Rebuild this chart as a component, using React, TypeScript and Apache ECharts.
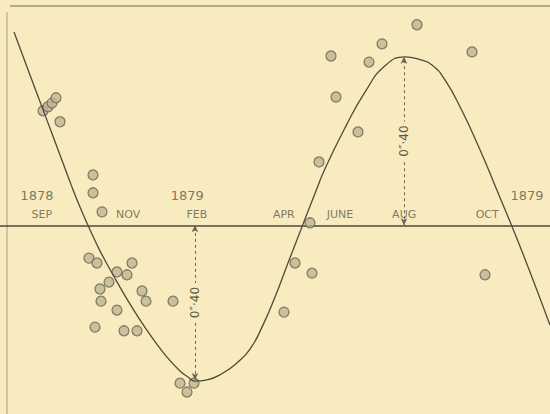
import React, { useEffect, useRef } from "react";
import * as echarts from "echarts";

// x: months (chart scale), y: arcseconds
const curveX = [0.395, 0.845, 1.268, 1.691, 2.029, 2.311, 2.536, 2.818, 3.185, 3.579, 3.945, 4.312, 4.706, 5.073, 5.298, 5.495, 5.834, 6.285, 6.679, 7.046, 7.384, 7.75, 8.116, 8.511, 8.849, 9.159, 9.723, 10.286, 10.85, 11.414, 11.836, 12.175, 12.541, 13.02, 13.527, 13.978, 14.401, 14.936, 15.5];
const curveY = [0.476, 0.37, 0.272, 0.173, 0.094, 0.033, -0.011, -0.063, -0.122, -0.182, -0.233, -0.28, -0.325, -0.359, -0.374, -0.384, -0.381, -0.364, -0.339, -0.305, -0.251, -0.177, -0.093, -0.004, 0.072, 0.139, 0.24, 0.328, 0.393, 0.415, 0.408, 0.395, 0.358, 0.282, 0.186, 0.092, 0.003, -0.115, -0.246];

const obsX = [1.212, 1.353, 1.465, 1.578, 1.691, 2.621, 2.621, 2.875, 2.508, 2.734, 3.72, 3.297, 3.579, 3.072, 2.818, 4.002, 2.846, 4.115, 4.875, 3.297, 2.677, 3.495, 3.861, 5.073, 5.467, 5.27, 8.003, 8.314, 8.793, 8.736, 8.99, 9.469, 10.089, 9.328, 10.399, 10.766, 11.752, 13.302, 13.668];
const obsY = [0.282, 0.292, 0.301, 0.314, 0.255, 0.124, 0.08, 0.033, -0.081, -0.093, -0.093, -0.115, -0.122, -0.14, -0.157, -0.162, -0.187, -0.187, -0.187, -0.209, -0.251, -0.26, -0.26, -0.389, -0.389, -0.411, -0.214, -0.093, -0.118, 0.006, 0.156, 0.316, 0.23, 0.417, 0.402, 0.447, 0.494, 0.427, -0.122];

const monthNames = ["SEP", "NOV", "FEB", "APR", "JUNE", "AUG", "OCT"];
const monthAt = [1.18, 3.61, 5.55, 8.0, 9.58, 11.39, 13.73];
const yearNames = ["1878", "1879", "1879"];
const yearAt = [1.04, 5.28, 14.85];

const ampAt = [5.495, 11.385];
const ampValue = [-0.381, 0.415];
const ampText = "0″·40";

const BG = "#f7ebbf";
const INK = "#4f4a3a";
const TEXT = "#5f5a47";

export default function App() {
  const ref = useRef<HTMLDivElement>(null);
  useEffect(() => {
    document.body.style.margin = "0";
    const chart = echarts.init(ref.current!, null, { renderer: "svg" });
    const monthY = 0.0266;
    const yearY = 0.0734;
    chart.setOption({
      animation: false,
      backgroundColor: BG,
      grid: { left: 0, right: 0, top: 0, bottom: 0 },
      xAxis: {
        type: "value",
        min: 0,
        max: 15.5,
        axisLine: { show: true, onZero: true, lineStyle: { color: INK, width: 1.5 } },
        axisTick: { show: false },
        axisLabel: { show: false },
        splitLine: { show: false },
      },
      yAxis: {
        type: "value",
        min: -0.465,
        max: 0.555,
        axisLine: { show: false },
        axisTick: { show: false },
        axisLabel: { show: false },
        splitLine: { show: false },
      },
      graphic: [
        { type: "line", shape: { x1: 10, y1: 6, x2: 550, y2: 6 }, style: { stroke: "#6e6a5a", lineWidth: 1 }, silent: true },
        { type: "line", shape: { x1: 7, y1: 12, x2: 7, y2: 414 }, style: { stroke: "#b3ad92", lineWidth: 1.2 }, silent: true },
      ],
      series: [
        {
          type: "line",
          data: curveX.map((x, i) => [x, curveY[i]]),
          smooth: 0.5,
          showSymbol: false,
          lineStyle: { color: INK, width: 1.3 },
          silent: true,
          markLine: {
            silent: true,
            symbol: ["arrow", "arrow"],
            symbolSize: [5, 7],
            lineStyle: { color: "#6a6450", type: [3, 3], width: 1 },
            label: {
              show: true,
              position: "middle",
              distance: 0,
              verticalAlign: "middle",
              formatter: ampText,
              color: "#5e5946",
              fontSize: 12,
              fontFamily: "DejaVu Sans",
              backgroundColor: BG,
              padding: [1, 4],
            },
            data: ampAt.map((x, i) =>
              ampValue[i] < 0
                ? [{ coord: [x, ampValue[i]] }, { coord: [x, 0] }]
                : [{ coord: [x, 0] }, { coord: [x, ampValue[i]] }]
            ),
          },
        },
        {
          type: "scatter",
          data: obsX.map((x, i) => [x, obsY[i]]),
          symbol: "circle",
          symbolSize: 10,
          itemStyle: { color: "#bdb693", borderColor: "#6d6853", borderWidth: 1.3 },
          silent: true,
        },
        {
          type: "scatter",
          symbolSize: 0,
          silent: true,
          data: monthNames.map((n, i) => ({ name: n, value: [monthAt[i], monthY] })),
          label: {
            show: true,
            position: "inside",
            formatter: (p: any) => p.name,
            color: TEXT,
            fontSize: 11,
            fontFamily: "DejaVu Sans",
          },
        },
        {
          type: "scatter",
          symbolSize: 0,
          silent: true,
          data: yearNames.map((n, i) => ({ name: n, value: [yearAt[i], yearY] })),
          label: {
            show: true,
            position: "inside",
            formatter: (p: any) => p.name,
            color: TEXT,
            fontSize: 13,
            fontFamily: "DejaVu Sans",
          },
        },
      ],
    });
    return () => chart.dispose();
  }, []);
  return <div ref={ref} style={{ position: "absolute", left: 0, top: 0, width: 550, height: 414 }} />;
}
